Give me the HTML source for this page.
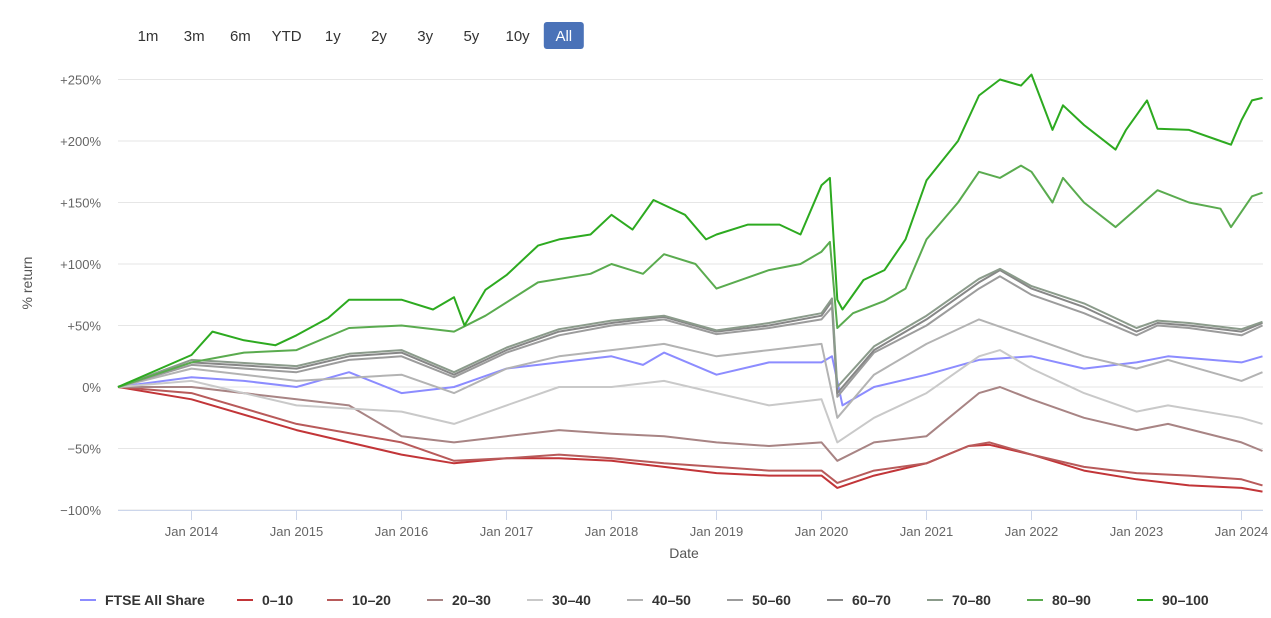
<!DOCTYPE html>
<html><head><meta charset="utf-8">
<style>
body{margin:0;background:#fff;font-family:"Liberation Sans",sans-serif;}
svg{display:block}
</style></head>
<body>
<svg id="chart" width="1271" height="618">
<g id="buttons"></g>
<g id="grid"></g>
<g id="xaxis"></g>
<g id="series"></g>
<g id="legend"></g>
<text x="684" y="558" text-anchor="middle" font-size="14" fill="#555">Date</text>
<text x="0" y="0" transform="translate(32,283) rotate(-90)" text-anchor="middle" font-size="14" fill="#555">% return</text>
</svg>
<script>
const rangeLabels=["1m","3m","6m","YTD","1y","2y","3y","5y","10y","All"];
const yTicks=[250,200,150,100,50,0,-50,-100];
const xTickYears=[2014,2015,2016,2017,2018,2019,2020,2021,2022,2023,2024];
const seriesNames=["FTSE All Share","0–10","10–20","20–30","30–40","40–50","50–60","60–70","70–80","80–90","90–100"];
const seriesColors=["#8c8cff","#c23538","#b85a5a","#a88484","#c9c9c9","#b3b3b3","#9c9c9c","#878787","#8b9b8b","#5aab4f","#2daa20"];
const sFTSE=[[2013.3,0],[2014,8],[2014.5,5],[2015,0],[2015.5,12],[2016,-5],[2016.5,0],[2017,15],[2017.5,20],[2018,25],[2018.3,18],[2018.5,28],[2019,10],[2019.5,20],[2020,20],[2020.1,25],[2020.2,-15],[2020.5,0],[2021,10],[2021.5,22],[2022,25],[2022.5,15],[2023,20],[2023.3,25],[2024,20],[2024.2,25]];
const s0_10=[[2013.3,0],[2014,-10],[2015,-35],[2015.5,-45],[2016,-55],[2016.5,-62],[2017,-58],[2017.5,-58],[2018,-60],[2018.5,-65],[2019,-70],[2019.5,-72],[2020,-72],[2020.15,-82],[2020.5,-72],[2021,-62],[2021.4,-48],[2021.6,-47],[2022,-55],[2022.5,-68],[2023,-75],[2023.5,-80],[2024,-82],[2024.2,-85]];
const s10_20=[[2013.3,0],[2014,-5],[2015,-30],[2016,-45],[2016.5,-60],[2017,-58],[2017.5,-55],[2018,-58],[2018.5,-62],[2019,-65],[2019.5,-68],[2020,-68],[2020.15,-78],[2020.5,-68],[2021,-62],[2021.4,-48],[2021.6,-45],[2022,-55],[2022.5,-65],[2023,-70],[2023.5,-72],[2024,-75],[2024.2,-80]];
const s20_30=[[2013.3,0],[2014,0],[2015,-10],[2015.5,-15],[2016,-40],[2016.5,-45],[2017,-40],[2017.5,-35],[2018,-38],[2018.5,-40],[2019,-45],[2019.5,-48],[2020,-45],[2020.15,-60],[2020.5,-45],[2021,-40],[2021.5,-5],[2021.7,0],[2022,-10],[2022.5,-25],[2023,-35],[2023.3,-30],[2024,-45],[2024.2,-52]];
const s30_40=[[2013.3,0],[2014,5],[2015,-15],[2016,-20],[2016.5,-30],[2017,-15],[2017.5,0],[2018,0],[2018.5,5],[2019,-5],[2019.5,-15],[2020,-10],[2020.15,-45],[2020.5,-25],[2021,-5],[2021.5,25],[2021.7,30],[2022,15],[2022.5,-5],[2023,-20],[2023.3,-15],[2024,-25],[2024.2,-30]];
const s40_50=[[2013.3,0],[2014,15],[2015,5],[2016,10],[2016.5,-5],[2017,15],[2017.5,25],[2018,30],[2018.5,35],[2019,25],[2019.5,30],[2020,35],[2020.15,-25],[2020.5,10],[2021,35],[2021.5,55],[2022,40],[2022.5,25],[2023,15],[2023.3,22],[2024,5],[2024.2,12]];
const s50_60=[[2013.3,0],[2014,18],[2015,12],[2015.5,22],[2016,25],[2016.5,8],[2017,28],[2017.5,42],[2018,50],[2018.5,55],[2019,43],[2019.5,48],[2020,55],[2020.1,65],[2020.15,-8],[2020.5,28],[2021,50],[2021.5,80],[2021.7,90],[2022,75],[2022.5,60],[2023,42],[2023.2,50],[2023.5,48],[2024,42],[2024.2,50]];
const s60_70=[[2013.3,0],[2014,20],[2015,15],[2015.5,25],[2016,28],[2016.5,10],[2017,30],[2017.5,45],[2018,52],[2018.5,57],[2019,45],[2019.5,50],[2020,58],[2020.1,70],[2020.15,-5],[2020.5,30],[2021,55],[2021.5,85],[2021.7,95],[2022,80],[2022.5,65],[2023,45],[2023.2,52],[2023.5,50],[2024,45],[2024.2,52]];
const s70_80=[[2013.3,0],[2014,22],[2015,17],[2015.5,27],[2016,30],[2016.5,12],[2017,32],[2017.5,47],[2018,54],[2018.5,58],[2019,46],[2019.5,52],[2020,60],[2020.1,72],[2020.15,0],[2020.5,33],[2021,58],[2021.5,88],[2021.7,96],[2022,82],[2022.5,68],[2023,48],[2023.2,54],[2023.5,52],[2024,47],[2024.2,53]];
const s80_90=[[2013.3,0],[2014,20],[2014.5,28],[2015,30],[2015.5,48],[2016,50],[2016.5,45],[2016.8,58],[2017.3,85],[2017.8,92],[2018,100],[2018.3,92],[2018.5,108],[2018.8,100],[2019,80],[2019.5,95],[2019.8,100],[2020,110],[2020.08,118],[2020.15,48],[2020.3,60],[2020.6,70],[2020.8,80],[2021,120],[2021.3,150],[2021.5,175],[2021.7,170],[2021.9,180],[2022,175],[2022.2,150],[2022.3,170],[2022.5,150],[2022.8,130],[2023,145],[2023.2,160],[2023.5,150],[2023.8,145],[2023.9,130],[2024.1,155],[2024.2,158]];
const s90_100=[[2013.3,0],[2014,26],[2014.2,45],[2014.5,38],[2014.8,34],[2015,42],[2015.3,56],[2015.5,71],[2015.8,71],[2016,71],[2016.3,63],[2016.5,73],[2016.6,50],[2016.8,79],[2017,91],[2017.3,115],[2017.5,120],[2017.8,124],[2018,140],[2018.2,128],[2018.4,152],[2018.7,140],[2018.9,120],[2019,124],[2019.3,132],[2019.6,132],[2019.8,124],[2020,164],[2020.08,170],[2020.15,71],[2020.2,63],[2020.4,87],[2020.6,95],[2020.8,120],[2021,168],[2021.3,200],[2021.5,237],[2021.7,250],[2021.9,245],[2022,254],[2022.2,209],[2022.3,229],[2022.5,213],[2022.8,193],[2022.9,209],[2023,221],[2023.1,233],[2023.2,210],[2023.5,209],[2023.8,200],[2023.9,197],[2024,217],[2024.1,233],[2024.2,235]];
const allSeries=[sFTSE,s0_10,s10_20,s20_30,s30_40,s40_50,s50_60,s60_70,s70_80,s80_90,s90_100];

const NS="http://www.w3.org/2000/svg";
const X0=118,X1=1263;
function xScale(yr){return 118+(yr-2013.3)*105;}
function yScale(v){return 387-v*1.23;}
function mk(tag,attrs,parent){const e=document.createElementNS(NS,tag);for(const k in attrs)e.setAttribute(k,attrs[k]);parent.appendChild(e);return e;}

// buttons
const bg=document.getElementById('buttons');
rangeLabels.forEach((l,i)=>{
  const cx=148+i*46.2;
  const sel=l==="All";
  const g=mk('g',{},bg);
  
  
  if(sel){mk('rect',{x:cx-20,y:22,width:40,height:27,rx:3,fill:'#4a72b8'},g);}
  const t=mk('text',{x:cx,y:41,'text-anchor':'middle','font-size':15,fill:sel?'#fff':'#333'},g);
  t.textContent=l;
});

// grid + y labels
const gg=document.getElementById('grid');
yTicks.forEach(v=>{
  const y=yScale(v);
  const ln=mk('line',{x1:X0,x2:X1,y1:y,y2:y,stroke:'#e6e6e6','stroke-width':1},gg);
  
  
  const t=mk('text',{x:101,y:y+5,'text-anchor':'end','font-size':13,fill:'#666'},gg);
  
  
  t.textContent=(v>0?'+':v<0?'−':'')+Math.abs(v)+'%';
});

// x axis
const xa=document.getElementById('xaxis');
mk('line',{x1:X0,x2:X1,y1:510.5,y2:510.5,stroke:'#ccd6eb'},xa);
xTickYears.forEach(yr=>{
  const x=xScale(yr);
  mk('line',{x1:x,x2:x,y1:510,y2:520,stroke:'#ccd6eb'},xa);
  const t=mk('text',{x:x,y:536,'text-anchor':'middle','font-size':13,fill:'#666'},xa);
  
  
  t.textContent='Jan '+yr;
});

// series
const sg=document.getElementById('series');
allSeries.forEach((s,i)=>{
  const d=s.map((p,j)=>(j?'L':'M')+xScale(p[0]).toFixed(1)+','+yScale(p[1]).toFixed(1)).join('');
  const p=mk('path',{d:d,fill:'none',stroke:seriesColors[i],'stroke-width':2,'stroke-linejoin':'round'},sg);
  
  
});

// legend
const lg=document.getElementById('legend');
const legX=[80,237,327,427,527,627,727,827,927,1027,1137];
seriesNames.forEach((n,i)=>{
  const g=mk('g',{},lg);
  
  
  mk('line',{x1:legX[i],x2:legX[i]+16,y1:600,y2:600,stroke:seriesColors[i],'stroke-width':2},g);
  const t=mk('text',{x:legX[i]+25,y:605,'font-size':14,'font-weight':'bold',fill:'#333'},g);
  t.textContent=n;
});
</script>
</body></html>
